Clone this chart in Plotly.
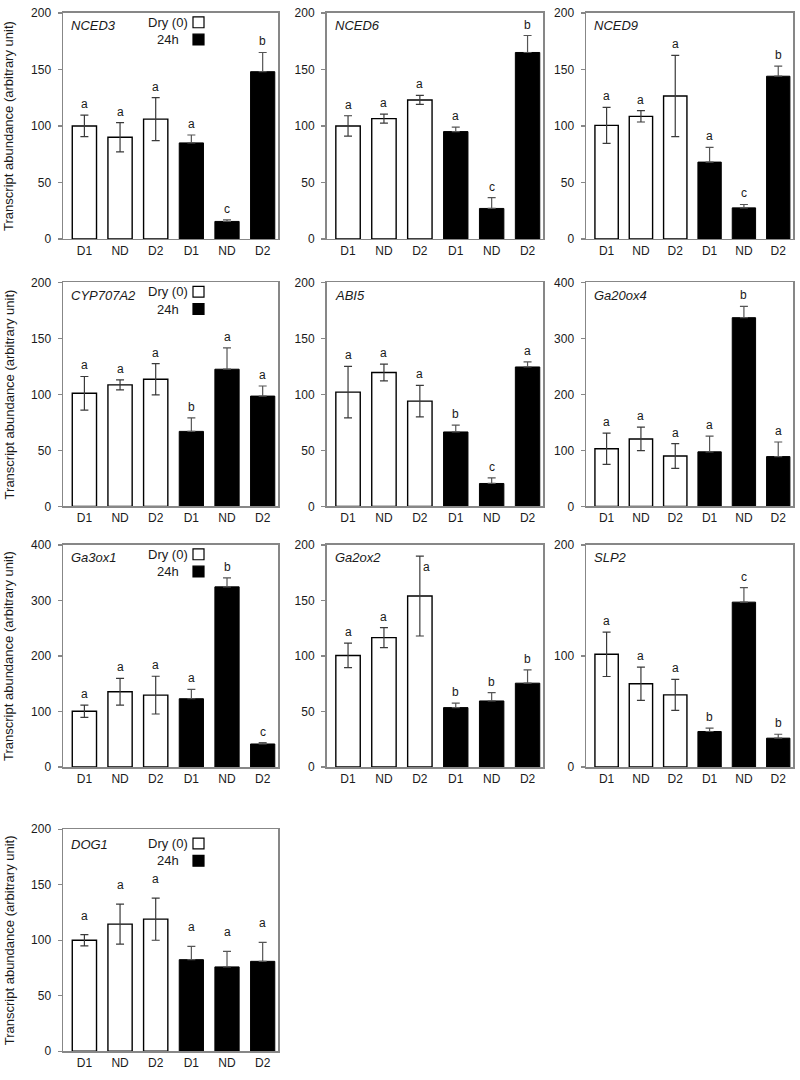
import plotly.graph_objects as go

# ---------------- data ----------------
categories = ["D1", "ND", "D2", "D1", "ND", "D2"]
legend_labels = ["Dry (0)", "24h"]
y_title = "Transcript abundance (arbitrary unit)"

nced3_mean = [100, 90, 106, 85, 15.5, 148]
nced3_err = [9.5, 13, 19, 7, 1.5, 17]
nced3_letters = ["a", "a", "a", "a", "c", "b"]

nced6_mean = [100, 106.5, 123, 95, 27, 165]
nced6_err = [9, 4, 4, 4, 9.5, 15]
nced6_letters = ["a", "a", "a", "a", "c", "b"]

nced9_mean = [100.5, 108.5, 126.5, 68, 27.5, 144]
nced9_err = [16, 5, 36, 13, 3, 9]
nced9_letters = ["a", "a", "a", "a", "c", "b"]

cyp_mean = [101, 108.5, 113.5, 67, 122.5, 98.5]
cyp_err = [15, 4.5, 14, 12, 19, 9]
cyp_letters = ["a", "a", "a", "b", "a", "a"]

abi5_mean = [102, 119.5, 94, 66.5, 20.5, 124.5]
abi5_err = [23, 7.5, 14, 6, 5, 4.5]
abi5_letters = ["a", "a", "a", "b", "c", "a"]

ga20_mean = [103, 120.5, 90, 97.5, 337, 89]
ga20_err = [28, 21, 22, 28, 20, 26]
ga20_letters = ["a", "a", "a", "a", "b", "a"]

ga3_mean = [100.5, 135.5, 129.5, 123, 324.5, 41.5]
ga3_err = [11, 24, 34, 17, 16, 2.5]
ga3_letters = ["a", "a", "a", "a", "b", "c"]

ga2_mean = [100.5, 116.5, 154, 53.5, 59.5, 75.5]
ga2_err = [11, 9, 36, 4, 7.5, 12]
ga2_letters = ["a", "a", "a", "b", "b", "b"]

slp2_mean = [101.5, 75, 65, 32, 148.5, 26]
slp2_err = [20, 15, 14, 3, 13, 3.5]
slp2_letters = ["a", "a", "a", "b", "c", "b"]

dog1_mean = [100, 114.5, 119, 82.5, 76, 81]
dog1_err = [5, 18, 19, 12, 14, 17]
dog1_letters = ["a", "a", "a", "a", "a", "a"]

genes = ["NCED3", "NCED6", "NCED9", "CYP707A2", "ABI5", "Ga20ox4",
         "Ga3ox1", "Ga2ox2", "SLP2", "DOG1"]
y_max = [200, 200, 200, 200, 200, 400, 400, 200, 200, 200]
y_step = [50, 50, 50, 50, 50, 100, 100, 50, 100, 50]

panels = [
    dict(gene=g, mean=m, err=e, letters=l, ymax=ym, dtick=dt)
    for g, m, e, l, ym, dt in zip(
        genes,
        [nced3_mean, nced6_mean, nced9_mean, cyp_mean, abi5_mean, ga20_mean,
         ga3_mean, ga2_mean, slp2_mean, dog1_mean],
        [nced3_err, nced6_err, nced9_err, cyp_err, abi5_err, ga20_err,
         ga3_err, ga2_err, slp2_err, dog1_err],
        [nced3_letters, nced6_letters, nced9_letters, cyp_letters, abi5_letters,
         ga20_letters, ga3_letters, ga2_letters, slp2_letters, dog1_letters],
        y_max, y_step)
]

# ---------------- layout geometry (page pixels) ----------------
FW, FH = 800, 1080
cols = [(63, 278), (326.5, 543), (586, 793)]
rows = [(6, 235), (279, 506), (545, 770), (833, 1058)]

def px_x(p):
    return p / FW

def px_y(p):
    return 1 - p / FH

AXIS_COLOR = "#878787"
TEXT_COLOR = "#1a1a1a"
FONT = "Liberation Sans, Arial, sans-serif"

fig = go.Figure()
annotations = []
shapes = []

for k, p in enumerate(panels):
    r, c = divmod(k, 3)
    left, right = cols[c]
    top, bottom = rows[r]
    n = k + 1
    xname = "x" if n == 1 else f"x{n}"
    yname = "y" if n == 1 else f"y{n}"
    xkey = "xaxis" if n == 1 else f"xaxis{n}"
    ykey = "yaxis" if n == 1 else f"yaxis{n}"

    idx = list(range(len(categories)))
    fig.add_trace(go.Bar(
        x=idx[:3], y=p["mean"][:3], xaxis=xname, yaxis=yname, width=0.68,
        marker=dict(color="white", line=dict(color="black", width=1.4)),
        error_y=dict(type="data", array=p["err"][:3], color="#3a3a3a",
                     thickness=1.2, width=4),
        showlegend=False, hoverinfo="skip"))
    fig.add_trace(go.Bar(
        x=idx[3:], y=p["mean"][3:], xaxis=xname, yaxis=yname, width=0.68,
        marker=dict(color="black", line=dict(color="black", width=1)),
        error_y=dict(type="data", symmetric=False, array=p["err"][3:],
                     arrayminus=[0, 0, 0], color="#555555",
                     thickness=1.2, width=4),
        showlegend=False, hoverinfo="skip"))

    fig.update_layout(**{
        xkey: dict(domain=[px_x(left), px_x(right)], anchor=yname,
                   range=[-0.6, 5.43], tickvals=idx, ticktext=categories,
                   showline=True, linecolor=AXIS_COLOR, linewidth=1.5,
                   mirror=True, ticks="", showgrid=False, zeroline=False,
                   tickfont=dict(size=12, color=TEXT_COLOR, family=FONT),
                   fixedrange=True),
        ykey: dict(domain=[px_y(bottom), px_y(top)], anchor=xname,
                   range=[0, p["ymax"]], dtick=p["dtick"], tick0=0,
                   showline=True, linecolor=AXIS_COLOR, linewidth=1.5,
                   mirror=True, ticks="outside", ticklen=4,
                   tickcolor=AXIS_COLOR, tickwidth=1.2, ticklabelstandoff=4,
                   showgrid=False, zeroline=False,
                   tickfont=dict(size=12, color=TEXT_COLOR, family=FONT),
                   fixedrange=True),
    })

    extra = 8 if p["gene"] == "DOG1" else 0
    for i, (m, e, lt) in enumerate(zip(p["mean"], p["err"], p["letters"])):
        ann = dict(x=i, y=m + e, xref=xname, yref=yname, text=lt,
                   showarrow=False, yanchor="bottom", yshift=2 + extra,
                   font=dict(size=12, color=TEXT_COLOR, family=FONT))
        if p["gene"] == "Ga2ox2" and i == 2:
            ann.update(yanchor="top", yshift=-2, xshift=7)
        annotations.append(ann)

    # gene name
    dy = 2 if p["gene"] == "DOG1" else 0
    annotations.append(dict(
        x=px_x(left + 6), y=px_y(top + 13 + dy), xref="paper", yref="paper",
        text=f"<i>{p['gene']}</i>", showarrow=False, xanchor="left",
        yanchor="middle", font=dict(size=13, color=TEXT_COLOR, family=FONT)))

    # legend box for first column panels
    if c == 0:
        ld = 5 if p["gene"] == "DOG1" else 0
        for j, (lab, fill) in enumerate(zip(legend_labels, ["white", "black"])):
            ty = top + 9.5 + ld + j * 17.5
            annotations.append(dict(
                x=px_x(left + 105), y=px_y(ty), xref="paper", yref="paper",
                text=lab, showarrow=False, xanchor="center", yanchor="middle",
                font=dict(size=13, color=TEXT_COLOR, family=FONT)))
            shapes.append(dict(
                type="rect", xref="paper", yref="paper",
                x0=px_x(left + 130), x1=px_x(left + 141),
                y0=px_y(ty - 5.5), y1=px_y(ty + 5.5),
                fillcolor=fill, line=dict(color="black", width=1.2)))
        # y-axis title
        annotations.append(dict(
            x=px_x(9), y=px_y((top + bottom) / 2), xref="paper", yref="paper",
            text=y_title, textangle=-90, showarrow=False,
            xanchor="center", yanchor="middle",
            font=dict(size=13, color=TEXT_COLOR, family=FONT)))

fig.update_layout(
    width=FW, height=FH, margin=dict(l=0, r=0, t=0, b=0),
    paper_bgcolor="white", plot_bgcolor="white",
    annotations=annotations, shapes=shapes, bargap=0,
    font=dict(family=FONT, color=TEXT_COLOR),
)

# remove the default page margin so the figure sits at the window's top-left
fig.write_html(
    "out.html",
    config={"displayModeBar": False, "staticPlot": True},
    post_script="document.body.style.margin='0';"
                "document.body.style.overflow='hidden';",
)
